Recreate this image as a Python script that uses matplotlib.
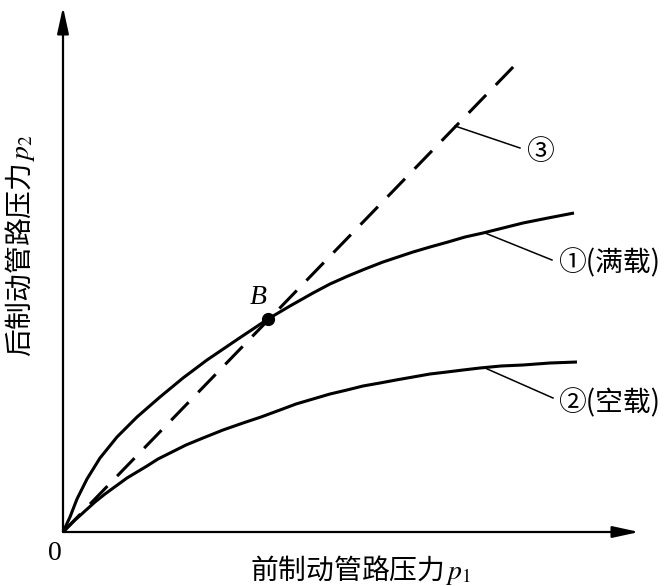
import matplotlib
matplotlib.use("Agg")
import matplotlib.pyplot as plt

plt.rcParams['font.family'] = ['Noto Sans CJK SC', 'DejaVu Sans']
plt.rcParams['mathtext.fontset'] = 'stix'
plt.rcParams['lines.scale_dashes'] = False

# curve ① (full load): front pressure p1 vs rear pressure p2 (arbitrary units)
p1_full = [0, 7, 14, 24, 37, 54, 74, 97, 120, 144, 175, 205, 227, 250, 267,
           285, 302, 320, 335, 350, 367, 385, 402, 420, 440, 460, 485, 511]
p2_full = [0, 15, 33, 53, 74, 95, 115, 135, 154, 172, 193, 213, 226, 239, 248,
           256, 263, 270, 275, 280, 285, 290, 295, 299, 304, 309, 314, 319]

# curve ② (empty load)
p1_empty = [0, 11, 22, 32, 42, 53, 64, 74, 84, 95, 107, 123, 140, 160, 180,
            198, 217, 233, 250, 267, 284, 300, 317, 333, 350, 367, 384, 400,
            417, 438, 460, 487, 514]
p2_empty = [0, 11, 21, 30, 38, 46, 54, 60, 66, 73, 79, 87, 94, 102, 109,
            115, 122, 128, 133, 138, 142, 146, 149, 152, 155, 158, 160, 162,
            164, 166, 167, 169, 170]

# line ③ (ideal distribution, dashed)
p1_ideal = [0, 454]
p2_ideal = [0, 469]

# intersection point B
b_point = (205, 213)

fig = plt.figure(figsize=(6.72, 5.86), dpi=100)
ax = fig.add_axes([0, 0, 1, 1])
ax.set_xlim(-63, 609)
ax.set_ylim(-54, 532)
ax.axis("off")

# axes with arrows
arrow = dict(arrowstyle="-|>,head_length=1.6,head_width=0.35", lw=1.6,
             color="black", shrinkA=0, shrinkB=0)
ax.annotate("", xy=(576, 0), xytext=(0, 0), arrowprops=arrow)
ax.annotate("", xy=(0, 525), xytext=(0, 0), arrowprops=arrow)

ax.plot(p1_full, p2_full, color="black", lw=2.2, solid_capstyle="butt",
        solid_joinstyle="round")
ax.plot(p1_empty, p2_empty, color="black", lw=2.2, solid_capstyle="butt",
        solid_joinstyle="round")
ax.plot(p1_ideal, p2_ideal, color="black", lw=2.2, dashes=(18, 10))
ax.plot(*b_point, "o", color="black", markersize=8.5)

# leader lines
ax.plot([392, 457], [406, 384], color="black", lw=1.1)
ax.plot([422, 489], [299, 272], color="black", lw=1.1)
ax.plot([422, 490], [164, 134], color="black", lw=1.1)

ax.text(477, 380, "③", fontsize=20, ha="center", va="center")
ax.text(495, 269, "①(满载)", fontsize=20, ha="left", va="center")
ax.text(495, 129, "②(空载)", fontsize=20, ha="left", va="center")
ax.text(195, 235, "B", fontsize=20, ha="center", va="center",
        family="Liberation Serif", style="italic")
ax.text(-8, -21, "0", fontsize=20, ha="center", va="center",
        family="Liberation Serif")

ax.text(187, -38, "前制动管路压力$\\,p_1$", fontsize=20, ha="left", va="center")
ax.text(-43, 287, "后制动管路压力$\\,p_2$", fontsize=20, ha="center",
        va="center", rotation=90)

fig.savefig("out.png", dpi=100)
